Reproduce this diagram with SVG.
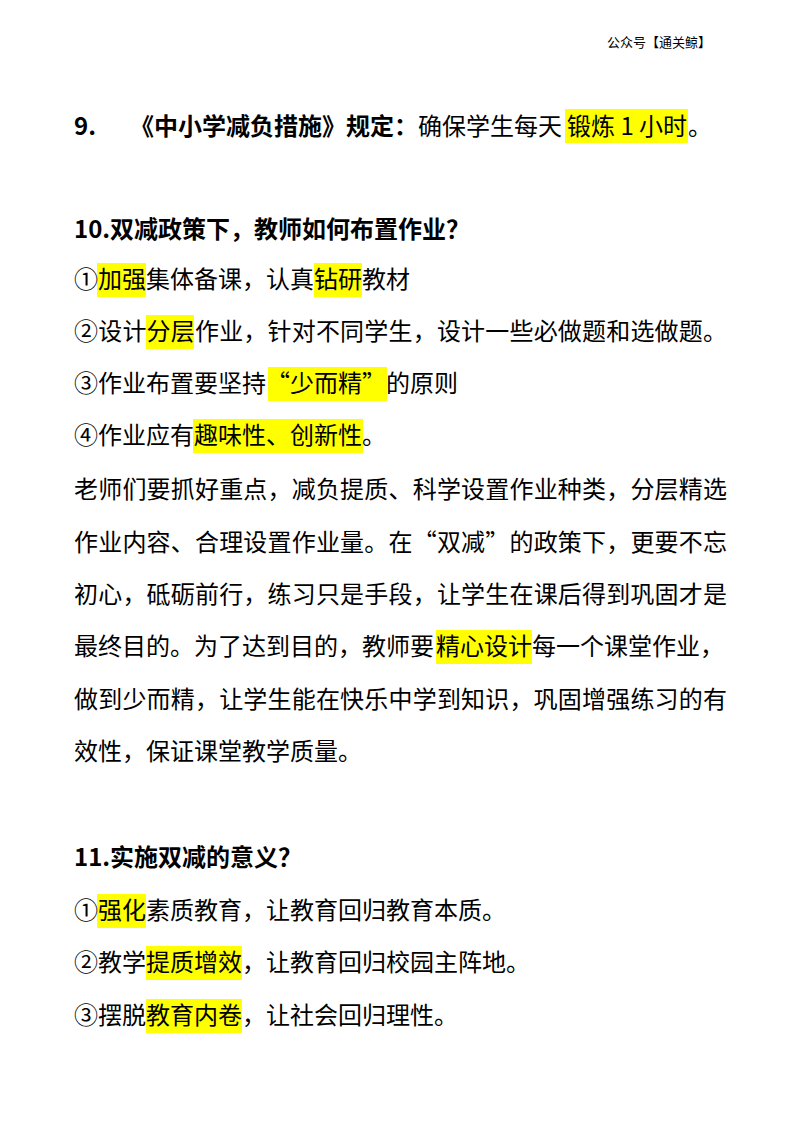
<svg xmlns="http://www.w3.org/2000/svg" width="800" height="1132" viewBox="0 0 800 1132">
<style>
text{font-family:"Noto Sans CJK SC","Noto Sans",sans-serif;font-size:24px;fill:#000}
.b{font-weight:bold}
.h{fill:#ffff00}
.hd{font-size:13px}
</style>
<rect width="800" height="1132" fill="#fff"/>
<text class="hd" x="607" y="47">公众号【通关鲸】</text>
<g id="hl">
<rect class="h" x="565" y="109" width="123" height="34"/>
<rect class="h" x="97" y="263" width="49" height="34"/>
<rect class="h" x="314" y="263" width="48" height="34"/>
<rect class="h" x="146" y="315" width="48" height="34"/>
<rect class="h" x="268" y="367" width="119" height="34"/>
<rect class="h" x="193" y="419" width="170" height="34"/>
<rect class="h" x="436" y="630" width="96" height="34"/>
<rect class="h" x="97" y="894" width="49" height="34"/>
<rect class="h" x="146" y="946" width="96" height="34"/>
<rect class="h" x="146" y="999" width="96" height="34"/>
</g>
<text class="b" x="74" y="135">9.</text>
<text x="130" y="135"><tspan class="b">《中小学减负措施》规定：</tspan>确保学生每天<tspan x="567">锻炼 1 小时</tspan><tspan x="688">。</tspan></text>
<text class="b" x="74" y="238">10.双减政策下，教师如何布置作业？</text>
<text x="74" y="288" textLength="336">①加强集体备课，认真钻研教材</text>
<text x="74" y="340" textLength="653">②设计分层作业，针对不同学生，设计一些必做题和选做题。</text>
<text x="74" y="392">③作业布置要坚持<tspan x="266">“少而精”</tspan><tspan x="386">的原则</tspan></text>
<text x="74" y="444">④作业应有趣味性、创新性<tspan x="362">。</tspan></text>
<text x="74" y="498" textLength="653">老师们要抓好重点，减负提质、科学设置作业种类，分层精选</text>
<text x="74" y="551" textLength="653">作业内容、合理设置作业量。在“双减”的政策下，更要不忘</text>
<text x="74" y="603" textLength="653">初心，砥砺前行，练习只是手段，让学生在课后得到巩固才是</text>
<text x="74" y="655">最终目的。为了达到目的，教师要<tspan x="436">精心设计</tspan><tspan x="532">每一个课堂作业，</tspan></text>
<text x="74" y="708" textLength="653">做到少而精，让学生能在快乐中学到知识，巩固增强练习的有</text>
<text x="74" y="760">效性，保证课堂教学质量。</text>
<text class="b" x="74" y="866">11.实施双减的意义？</text>
<text x="74" y="919">①强化素质教育，让教育回归教育本质。</text>
<text x="74" y="971">②教学提质增效，让教育回归校园主阵地。</text>
<text x="74" y="1024">③摆脱教育内卷，让社会回归理性。</text>
</svg>
